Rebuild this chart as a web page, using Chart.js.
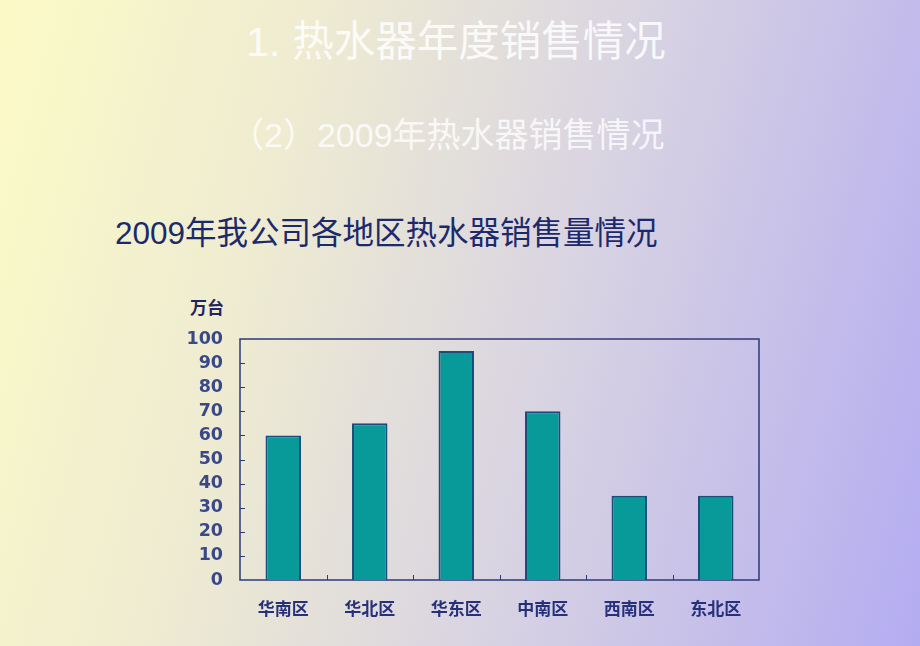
<!DOCTYPE html>
<html>
<head>
<meta charset="utf-8">
<script src="https://cdn.jsdelivr.net/npm/chart.js@4/dist/chart.umd.min.js"></script>
<style>
  html, body { margin: 0; padding: 0; }
  body {
    width: 920px; height: 646px; overflow: hidden; position: relative;
    background: linear-gradient(105deg, #fcfbc6 0%, #eeebd2 30%, #d8d3e2 60%, #b4acf1 100%);
    font-family: "Noto Sans CJK SC", "Noto Sans", sans-serif;
  }
  .t { position: absolute; white-space: nowrap; }
  #t1 { left: 246px; top: 13px; font-size: 41.5px; line-height: 58px; color: rgba(255,255,255,0.85); font-family: "Liberation Sans", "Noto Sans CJK SC", sans-serif; }
  #t2 { left: 230px; top: 112px; font-size: 34px; line-height: 46px; color: rgba(255,255,255,0.8); font-family: "Liberation Sans", "Noto Sans CJK SC", sans-serif; }
  #t3 { left: 115px; top: 212px; font-size: 31.5px; line-height: 43px; color: #1c2a6c; font-family: "Liberation Sans", "Noto Sans CJK SC", sans-serif; }
  #unit { left: 190px; top: 295px; font-size: 17px; line-height: 24px; color: #1e2560; font-weight: bold; }
  #wrap { position: absolute; left: 0; top: 290px; width: 920px; height: 356px; }
</style>
</head>
<body>
<div class="t" id="t1">1. 热水器年度销售情况</div>
<div class="t" id="t2">（2）2009年热水器销售情况</div>
<div class="t" id="t3">2009年我公司各地区热水器销售量情况</div>
<div class="t" id="unit">万台</div>
<div id="wrap"><canvas id="chart"></canvas></div>
<script>
const regions = ['华南区', '华北区', '华东区', '中南区', '西南区', '东北区'];
const sales = [60, 65, 95, 70, 35, 35];
const yTicks = [0, 10, 20, 30, 40, 50, 60, 70, 80, 90, 100];

const axisColor = '#2c3a78';

// box round the plot area, with small inward ticks
const framePlugin = {
  id: 'frame',
  beforeDatasetsDraw(chart) {
    const { ctx, chartArea: a, scales } = chart;
    ctx.save();
    ctx.strokeStyle = axisColor;
    ctx.lineWidth = 1.5;
    ctx.strokeRect(a.left, a.top, a.right - a.left, a.bottom - a.top);
    ctx.lineWidth = 1;
    ctx.beginPath();
    yTicks.forEach(v => {
      if (v === 0 || v === 100) return;
      const y = Math.round(scales.y.getPixelForValue(v)) + 0.5;
      ctx.moveTo(a.left, y);
      ctx.lineTo(a.left + 5, y);
    });
    for (let i = 0; i < regions.length - 1; i++) {
      const x = Math.round((scales.x.getPixelForValue(i) + scales.x.getPixelForValue(i + 1)) / 2) + 0.5;
      ctx.moveTo(x, a.bottom);
      ctx.lineTo(x, a.bottom - 5);
    }
    ctx.stroke();
    ctx.restore();
  }
};

new Chart(document.getElementById('chart'), {
  type: 'bar',
  data: {
    labels: regions,
    datasets: [{
      data: sales,
      backgroundColor: '#089a98',
      borderColor: '#1d4c7c',
      borderWidth: 2,
      categoryPercentage: 1,
      barPercentage: 0.41
    }]
  },
  options: {
    responsive: true,
    maintainAspectRatio: false,
    animation: false,
    layout: { padding: { top: 49, right: 161, bottom: 0, left: 0 } },
    plugins: { legend: { display: false }, tooltip: { enabled: false } },
    scales: {
      x: {
        grid: { display: false, drawTicks: false },
        border: { display: false },
        afterFit: s => { s.height = 66; },
        ticks: {
          padding: 18,
          color: '#27307a',
          font: { family: '"Noto Sans CJK SC"', size: 17, weight: 'bold' }
        }
      },
      y: {
        min: 0,
        max: 100,
        grid: { display: false, drawTicks: false },
        border: { display: false },
        afterFit: s => { s.width = 240; },
        afterBuildTicks: s => { s.ticks = yTicks.map(v => ({ value: v })); },
        ticks: {
          padding: 17,
          color: '#3b4888',
          font: { family: '"DejaVu Sans"', size: 17.5, weight: 'bold' }
        }
      }
    }
  },
  plugins: [framePlugin]
});
</script>
</body>
</html>
